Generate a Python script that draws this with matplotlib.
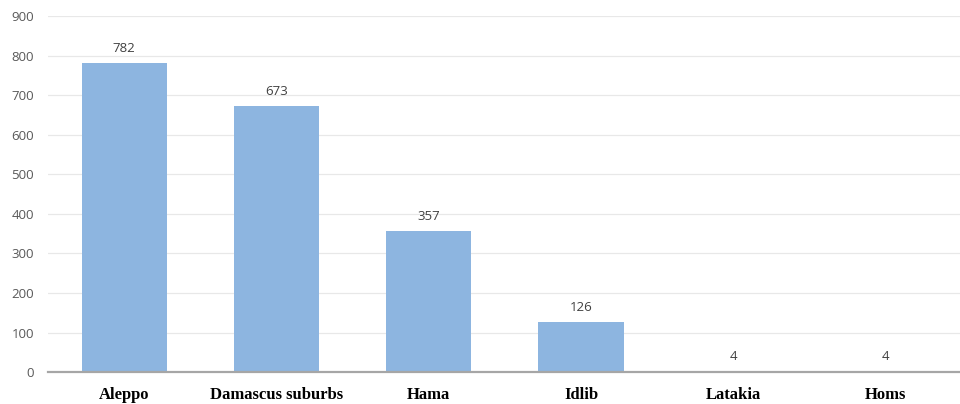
import matplotlib
matplotlib.use('Agg')
import matplotlib.pyplot as plt
import numpy as np

# 数据
regions = ['Aleppo', 'Damascus suburbs', 'Hama', 'Idlib', 'Latakia', 'Homs']
counts = [782, 673, 357, 126, 4, 4]

fig = plt.figure(figsize=(9.6, 4.04), dpi=100)
ax = fig.add_axes([0.05, 0.079, 0.952, 0.881])

X = np.arange(len(regions))
ax.bar(X, counts, width=0.56, color='#8DB5E0', zorder=2)

for x, v in zip(X, counts):
    ax.text(x, v + 20, str(v), ha='center', va='bottom', fontsize=9.5,
            color='#404040', family='Open Sans')

ax.set_xlim(-0.5, len(regions) - 0.5)
ax.set_ylim(0, 900)
ax.set_yticks(range(0, 901, 100))
ax.yaxis.grid(True, color='#E8E8E8', linewidth=0.9, zorder=0)
ax.set_axisbelow(True)

for s in ['top', 'right', 'left']:
    ax.spines[s].set_visible(False)
ax.spines['bottom'].set_color('#A6A6A6')
ax.spines['bottom'].set_linewidth(1.6)

ax.tick_params(axis='both', length=0)
ax.tick_params(axis='y', labelsize=9.5, labelcolor='#595959', pad=10)
ax.set_xticks(X)
ax.set_xticklabels(regions, fontsize=12, fontweight='bold',
                   family='Liberation Serif', color='black')
ax.tick_params(axis='x', pad=11)
for lab in ax.get_yticklabels():
    lab.set_family('Open Sans')

fig.savefig('out.png', dpi=100)
